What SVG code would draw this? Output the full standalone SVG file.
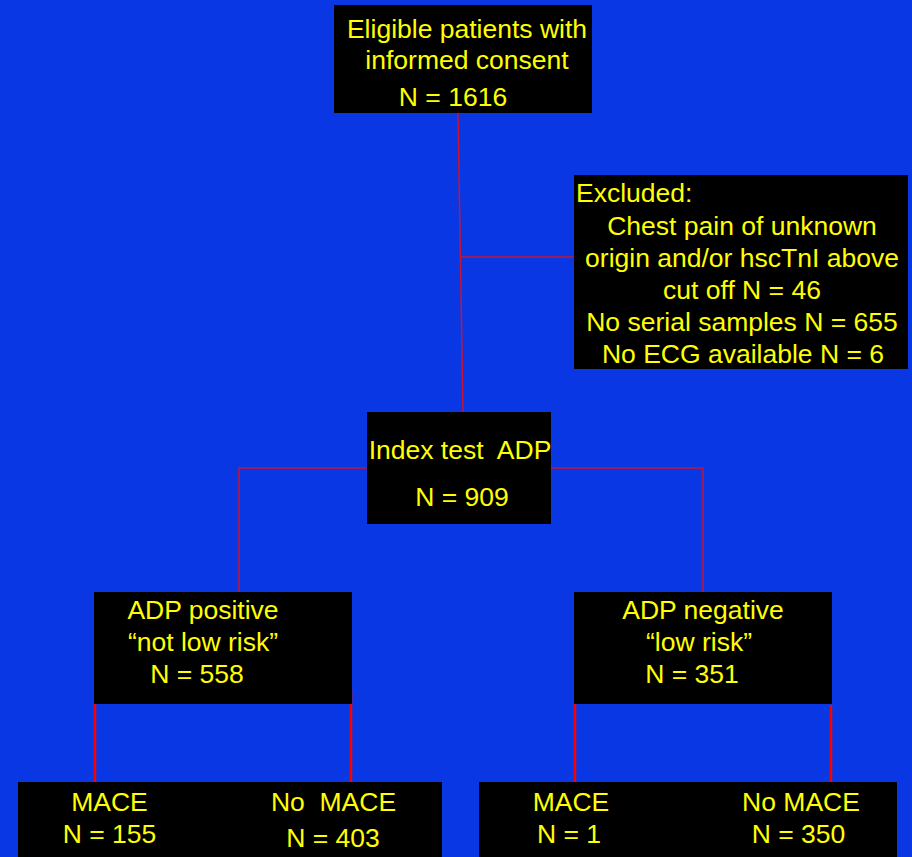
<svg xmlns="http://www.w3.org/2000/svg" width="912" height="857" viewBox="0 0 912 857">
<style>
.box{fill:#000000}
.t{font-family:"Liberation Sans",Arial,sans-serif;font-size:26.5px;fill:#FFFF00}
.m{text-anchor:middle}
.thin{stroke:#C8142E;stroke-width:1.5;fill:none}
.thick{stroke:#FF0000;stroke-width:2.5;fill:none}
</style>
<rect width="912" height="857" fill="#0937E4"/>
<g id="connectors">
<polyline class="thin" points="458,113 463,412"/>
<line class="thin" x1="461" y1="257" x2="575" y2="257"/>
<polyline class="thin" points="367,468 239,468 239,593"/>
<polyline class="thin" points="551,468 703,468 703,593"/>
<line class="thick" x1="95" y1="689" x2="95" y2="784"/>
<line class="thick" x1="351" y1="689" x2="351" y2="784"/>
<line class="thick" x1="575" y1="689" x2="575" y2="784"/>
<line class="thick" x1="831" y1="705" x2="831" y2="784"/>
</g>
<g id="eligible">
<rect class="box" x="334" y="5" width="258" height="108"/>
<text class="t m" x="467" y="38">Eligible patients with</text>
<text class="t m" x="467" y="69">informed consent</text>
<text class="t m" x="453" y="106">N = 1616</text>
</g>
<g id="excluded">
<rect class="box" x="574" y="175" width="334" height="194"/>
<text class="t" x="576" y="202">Excluded:</text>
<text class="t m" x="742" y="235">Chest pain of unknown</text>
<text class="t m" x="742" y="267">origin and/or hscTnI above</text>
<text class="t m" x="742" y="299">cut off N = 46</text>
<text class="t m" x="742" y="331">No serial samples N = 655</text>
<text class="t m" x="743" y="363">No ECG available N = 6</text>
</g>
<g id="index">
<rect class="box" x="367" y="412" width="184" height="112"/>
<text class="t m" x="460" y="459" xml:space="preserve">Index test  ADP</text>
<text class="t m" x="462" y="506">N = 909</text>
</g>
<g id="adp-positive">
<rect class="box" x="94" y="592" width="258" height="112"/>
<text class="t m" x="203" y="619">ADP positive</text>
<text class="t m" x="203" y="651">“not low risk”</text>
<text class="t m" x="197" y="683">N = 558</text>
</g>
<g id="adp-negative">
<rect class="box" x="574" y="592" width="258" height="112"/>
<text class="t m" x="703" y="619">ADP negative</text>
<text class="t m" x="699" y="651">“low risk”</text>
<text class="t m" x="692" y="683">N = 351</text>
</g>
<g id="positive-outcomes">
<rect class="box" x="18" y="782" width="424" height="75"/>
<text class="t m" x="109.5" y="811">MACE</text>
<text class="t m" x="109.5" y="843">N = 155</text>
<text class="t m" x="333.5" y="811" xml:space="preserve">No  MACE</text>
<text class="t m" x="333" y="847">N = 403</text>
</g>
<g id="negative-outcomes">
<rect class="box" x="479" y="782" width="418" height="75"/>
<text class="t m" x="571" y="811">MACE</text>
<text class="t m" x="569" y="843">N = 1</text>
<text class="t m" x="801" y="811">No MACE</text>
<text class="t m" x="798.5" y="843">N = 350</text>
</g>
</svg>
